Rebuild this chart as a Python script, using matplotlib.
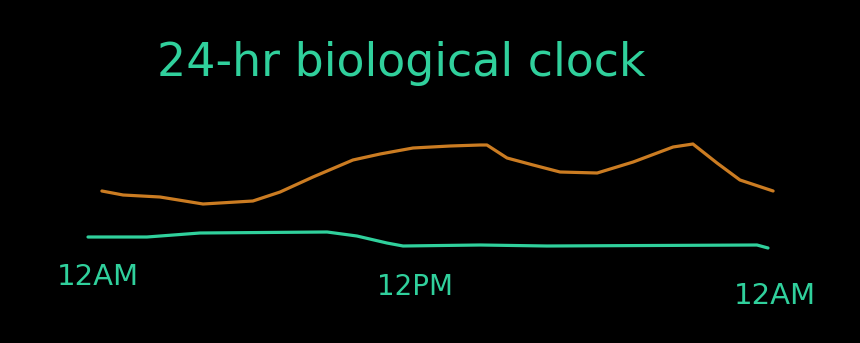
import matplotlib.pyplot as plt

# hours since midnight, level in arbitrary units
orange_hours = [0.49, 1.24, 2.54, 4.06, 5.82, 6.78, 7.94, 9.35, 10.31, 11.47, 12.78,
                13.84, 14.08, 14.79, 15.71, 16.66, 17.97, 19.24, 20.65, 21.35, 22.2, 23.01, 24.18]
orange_level = [5.9, 5.5, 5.3, 4.6, 4.9, 5.8, 7.3, 9.0, 9.6, 10.2, 10.4,
                10.5, 10.5, 9.2, 8.5, 7.8, 7.7, 8.8, 10.3, 10.6, 8.7, 7.0, 5.9]

green_hours = [0.0, 2.08, 3.95, 8.44, 9.49, 10.55, 11.12, 13.84, 16.2, 23.61, 24.0]
green_level = [1.3, 1.3, 1.7, 1.8, 1.4, 0.7, 0.4, 0.5, 0.4, 0.5, 0.2]

tick_labels = ["12AM", "12PM", "12AM"]
title = "24-hr biological clock"

teal = "#30d09c"
orange = "#cb7c22"
hand = ["DejaVu Sans"]

fig = plt.figure(figsize=(8.6, 3.43), dpi=100, facecolor="black")
ax = fig.add_axes([0, 0, 1, 1])
ax.set_facecolor("black")
ax.set_xlim(-3.106, 27.247)
ax.set_ylim(-9.3, 25)
ax.axis("off")

ax.plot(orange_hours, orange_level, color=orange, lw=2.3,
        solid_capstyle="round", solid_joinstyle="round")
ax.plot(green_hours, green_level, color=teal, lw=2.3,
        solid_capstyle="round", solid_joinstyle="round")

ax.text(11.05, 18.6, title, color=teal, fontsize=33, family=hand,
        ha="center", va="center")

ax.text(0.35, -2.7, tick_labels[0], color=teal, fontsize=21, family=hand, ha="center", va="center")
ax.text(11.54, -3.7, tick_labels[1], color=teal, fontsize=20, family=hand, ha="center", va="center")
ax.text(24.25, -4.6, tick_labels[2], color=teal, fontsize=21, family=hand, ha="center", va="center")

plt.savefig("out.png", dpi=100, facecolor="black")
